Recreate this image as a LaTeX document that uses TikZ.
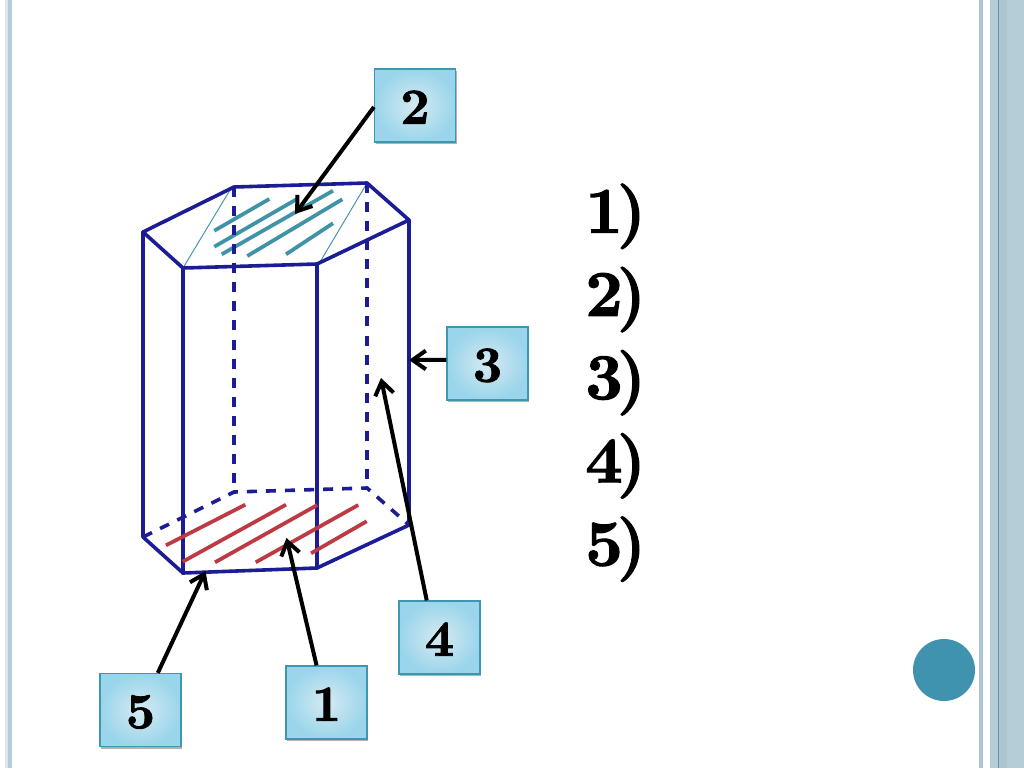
\documentclass[tikz,border=0pt]{standalone}
\usepackage{fontspec}
\newfontfamily\heavyfig{lmroman10-bold}[Extension=.otf,FakeBold=1.6]
\usetikzlibrary{arrows.meta,shadows}
\definecolor{panel}{HTML}{B5CDD6}
\definecolor{panelb}{HTML}{ADC5D0}
\definecolor{panelpale}{HTML}{DDE8EE}
\definecolor{paneldark}{HTML}{5F96A6}
\definecolor{prism}{HTML}{1C1C96}
\definecolor{hatcha}{HTML}{3F93A6}
\definecolor{hatchb}{HTML}{BE3A42}
\definecolor{boxedge}{HTML}{3F96B0}
\definecolor{boxout}{HTML}{9AD5EB}
\definecolor{boxin}{HTML}{D6EAF2}
\definecolor{dotc}{HTML}{3F93AE}
\newcommand{\listlabel}[1]{#1\kern-4.5pt)}
\tikzset{
  x=0.75pt,y=-0.75pt,
  solidedge/.style={draw=prism,line width=2.7pt,line cap=round,line join=round},
  hiddenedge/.style={draw=prism,line width=2.7pt,dash pattern=on 7.5pt off 6.8pt},
  thinedge/.style={draw=hatcha,line width=0.7pt},
  hatchtop/.style={draw=hatcha,line width=2.8pt},
  hatchbot/.style={draw=hatchb,line width=2.8pt},
  pointer/.style={draw=black,line width=3pt,-{Straight Barb[length=10pt,width=14pt,line width=3pt]}},
  labelbox/.style={draw=boxedge,line width=0.9pt,minimum width=60.75pt,minimum height=54.75pt,inner sep=0pt,
    inner color=boxin,outer color=boxout,text height=27.4pt,text depth=0pt,font=\fontsize{38}{42}\heavyfig,
    drop shadow={shadow xshift=1pt,shadow yshift=-1.6pt,opacity=.3,fill=black}},
  listitem/.style={anchor=base west,inner sep=0pt,font=\fontsize{49}{53}\heavyfig}
}
\begin{document}
\begin{tikzpicture}
\useasboundingbox (0,0) rectangle (1024,768);
\fill[white] (0,0) rectangle (1024,768);
% slide frame
\fill[panelpale] (5,0) rectangle (7.5,768);
\fill[panel] (7.5,0) rectangle (12,768);
\fill[panelb] (979,0) rectangle (983,768);
\fill[panel] (990,0) rectangle (1024,768);
\fill[panelb] (998,0) rectangle (1007,768);
\fill[paneldark] (997.7,0) rectangle (998.9,768);
\node[circle,fill=dotc,minimum size=46.5pt,inner sep=0pt] (dot) at (944,670) {};
% prism vertices
\coordinate (ta) at (143,232);\coordinate (tb) at (234,187);\coordinate (tc) at (367,183);
\coordinate (td) at (409,220);\coordinate (te) at (317,264);\coordinate (tf) at (183,268);
\coordinate (ba) at (143,537);\coordinate (bb) at (234,492);\coordinate (bc) at (367,488);
\coordinate (bd) at (409,525);\coordinate (be) at (317,568);\coordinate (bf) at (183,573);
% hatching, top
\draw[thinedge] (230,190) -- (tf);
\draw[thinedge] (tc) -- (320,262);
\draw[hatchtop] (214.3,230.7) -- (269.3,199);
\draw[hatchtop] (214.3,246.7) -- (297,199);
\draw[hatchtop] (221.7,254.3) -- (333,190.7);
\draw[hatchtop] (247.3,256) -- (342.3,199.3);
\draw[hatchtop] (286,254.3) -- (333,223.3);
% prism
\draw[solidedge] (ta) -- (tb) -- (tc) -- (td) -- (te) -- (tf) -- cycle;
\draw[solidedge] (ta) -- (ba) -- (bf) -- (be) -- (bd) -- (td);
\draw[solidedge] (tf) -- (bf);
\draw[solidedge] (te) -- (be);
\draw[hiddenedge] (tb) -- (bb);
\draw[hiddenedge] (tc) -- (bc);
\draw[hiddenedge] (ba) -- (bb) -- (bc) -- (bd);
% hatching, bottom
\draw[hatchbot] (166,545.3) -- (245.3,504.7);
\draw[hatchbot] (182.7,561.7) -- (286,504.7);
\draw[hatchbot] (215,562.3) -- (317.3,505);
\draw[hatchbot] (255.7,562.3) -- (358.3,505);
\draw[hatchbot] (311,553.3) -- (366.7,521.3);
% label boxes
\node[labelbox] (n2) at (415,105.5) {2};
\node[labelbox] (n3) at (487.5,363.5) {3};
\node[labelbox] (n4) at (439.5,637.5) {4};
\node[labelbox] (n5) at (140.5,710) {5};
\node[labelbox] (n1) at (326.5,702.5) {1};
% arrow tips
\coordinate (p2) at (295,214);
\coordinate (p3) at (409,360);
\coordinate (p4) at (381,378);
\coordinate (p5) at (205.5,571);
\coordinate (p1) at (286.5,538);
\draw[pointer] (n2.182) -- (p2);
\draw[pointer] (n3.175) -- (p3);
\draw[pointer] (n4.109) -- (p4);
\draw[pointer] (n5.65) -- (p5);
\draw[pointer] (n1.105) -- (p1);
% list
\node[listitem] (l1) at (585,232.7) {\listlabel{1}};
\node[listitem] (l2) at (585,315.9) {\listlabel{2}};
\node[listitem] (l3) at (585,399.1) {\listlabel{3}};
\node[listitem] (l4) at (585,482.3) {\listlabel{4}};
\node[listitem] (l5) at (585,565.5) {\listlabel{5}};
\end{tikzpicture}
\end{document}
